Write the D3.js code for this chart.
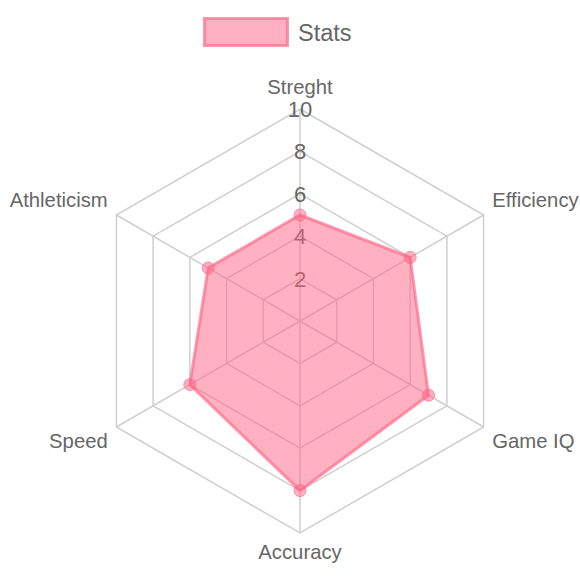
<!DOCTYPE html>
<html>
<head>
<meta charset="utf-8">
<script src="https://cdn.jsdelivr.net/npm/d3@7"></script>
<style>
  html, body { margin: 0; padding: 0; background: #fff; }
  svg { display: block; font-family: "Liberation Sans", Arial, Helvetica, sans-serif; }
</style>
</head>
<body>
<svg id="chart" width="580" height="580"></svg>
<script>
const labels = ["Streght", "Efficiency", "Game IQ", "Accuracy", "Speed", "Athleticism"];
const values = [5, 6, 7, 8, 6, 5];
const tickValues = [2, 4, 6, 8, 10];
const seriesName = "Stats";

const W = 580, H = 580;
const cx = 300, cy = 321, R = 212;
const svg = d3.select("#chart");

const r = d3.scaleLinear().domain([0, 10]).range([0, R]);
const angle = d3.scaleLinear().domain([0, labels.length]).range([-Math.PI / 2, 1.5 * Math.PI]);
const pt = (i, v) => [cx + r(v) * Math.cos(angle(i)), cy + r(v) * Math.sin(angle(i))];

const fillCol = "rgba(255,99,132,0.5)";
const strokeCol = "rgba(255,99,132,0.65)";
const gridCol = "#cfcfcf";
const textCol = "#666";

const g = svg.append("g");

// grid hexagons
tickValues.forEach(t => {
  g.append("polygon")
    .attr("points", labels.map((_, i) => pt(i, t).join(",")).join(" "))
    .attr("fill", "none")
    .attr("stroke", gridCol)
    .attr("stroke-width", 1.5);
});
// angle lines
labels.forEach((_, i) => {
  const [x, y] = pt(i, 10);
  g.append("line").attr("x1", cx).attr("y1", cy).attr("x2", x).attr("y2", y)
    .attr("stroke", gridCol).attr("stroke-width", 1.5);
});

// tick labels
tickValues.forEach(t => {
  g.append("text")
    .attr("x", cx).attr("y", cy - r(t) + 8)
    .attr("text-anchor", "middle")
    .attr("font-size", 22)
    .attr("fill", textCol)
    .text(t);
});

// point labels
labels.forEach((lab, i) => {
  const a = angle(i);
  const [x, y] = pt(i, 10 + 10 / R * 10);
  const c = Math.cos(a), s = Math.sin(a);
  let anchor = "middle";
  if (c > 0.1) anchor = "start";
  else if (c < -0.1) anchor = "end";
  let by = s < 0 ? y - 3.5 : y + 16;
  if (Math.abs(c) < 0.1 && s < 0) by -= 2;
  g.append("text")
    .attr("x", x).attr("y", by)
    .attr("text-anchor", anchor)
    .attr("font-size", 20.3)
    .attr("fill", textCol)
    .text(lab);
});

// data polygon
g.append("polygon")
  .attr("points", values.map((v, i) => pt(i, v).join(",")).join(" "))
  .attr("fill", fillCol)
  .attr("stroke", strokeCol)
  .attr("stroke-width", 3)
  .attr("stroke-linejoin", "miter");

g.selectAll("circle.pt").data(values).enter().append("circle")
  .attr("class", "pt")
  .attr("cx", (v, i) => pt(i, v)[0])
  .attr("cy", (v, i) => pt(i, v)[1])
  .attr("r", 6)
  .attr("fill", fillCol)
  .attr("stroke", strokeCol)
  .attr("stroke-width", 1);

// legend
const lg = svg.append("g");
lg.append("rect")
  .attr("x", 204.5).attr("y", 18.5).attr("width", 83).attr("height", 27)
  .attr("fill", fillCol).attr("stroke", strokeCol).attr("stroke-width", 3);
lg.append("text")
  .attr("x", 298).attr("y", 40.5)
  .attr("font-size", 23.5)
  .attr("fill", textCol)
  .text(seriesName);
</script>
</body>
</html>
